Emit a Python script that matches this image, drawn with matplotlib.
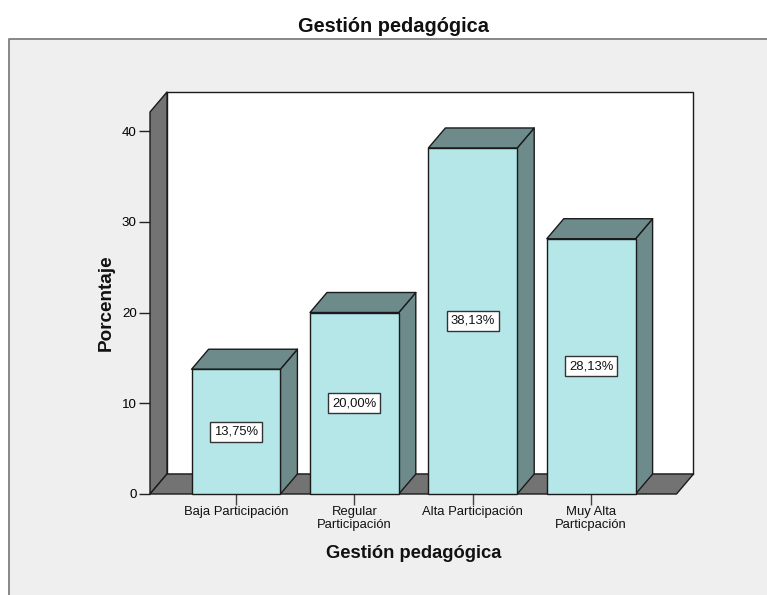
import matplotlib
matplotlib.use("Agg")
import matplotlib.pyplot as plt
from matplotlib.patches import Rectangle, Polygon
from matplotlib.lines import Line2D

categories = ["Baja Participación", "Regular\nParticipación", "Alta Participación", "Muy Alta\nParticpación"]
values = [13.75, 20.00, 38.13, 28.13]
labels = ["13,75%", "20,00%", "38,13%", "28,13%"]
yticks = [0, 10, 20, 30, 40]
title = "Gestión pedagógica"
xlabel = "Gestión pedagógica"
ylabel = "Porcentaje"

W, H = 767, 595
plt.rcParams["font.family"] = ["Liberation Sans", "DejaVu Sans"]
fig = plt.figure(figsize=(W / 100, H / 100), dpi=100, facecolor="white")

PANEL = "#EFEFEF"
WALL = "#737373"
BAR = "#B5E6E8"
SIDE = "#6E8B8B"
EDGE = "#1a1a1a"

def fx(p): return p / W
def fy(p): return 1 - p / H

fig.patches.append(Rectangle((fx(9), 0), 1 - fx(9), fy(39), transform=fig.transFigure,
                             facecolor=PANEL, edgecolor="none", zorder=-5))
fig.add_artist(Line2D([fx(9), fx(9), 1], [0, fy(39), fy(39)], color="#7f7f7f", lw=1.3))

L, R, B, T = 150.0, 676.5, 494.0, 112.0
ax = fig.add_axes([fx(L), fy(B), (R - L) / W, (B - T) / H])
ax.patch.set_visible(False)
step = 118.4
ax.set_xlim((L - 236) / step, (R - 236) / step)
unit = 9.075
ax.set_ylim(0, (B - T) / unit)
xmin, xmax = ax.get_xlim()
ymax = ax.get_ylim()[1]
dx, dy = 17 / step, 20 / unit
lw = 1.0

def poly(pts, fc, z):
    ax.add_patch(Polygon(pts, closed=True, facecolor=fc, edgecolor=EDGE, lw=lw, zorder=z,
                         clip_on=False, joinstyle="round"))

poly([(xmin + dx, dy), (xmax + dx, dy), (xmax + dx, ymax + dy), (xmin + dx, ymax + dy)], "white", 1)
poly([(xmin, 0), (xmin + dx, dy), (xmin + dx, ymax + dy), (xmin, ymax)], WALL, 2)
poly([(xmin, 0), (xmax, 0), (xmax + dx, dy), (xmin + dx, dy)], WALL, 2)

width = 0.75
for i, (v, lab) in enumerate(zip(values, labels)):
    l, r = i - width / 2, i + width / 2
    poly([(r, 0), (r + dx, dy), (r + dx, v + dy), (r, v)], SIDE, 3 + i)
    poly([(l, v), (r, v), (r + dx, v + dy), (l + dx, v + dy)], SIDE, 3 + i)
    ax.bar(i, v, width=width, color=BAR, edgecolor=EDGE, lw=lw, zorder=3.5 + i, clip_on=False)
    ax.text(i, v / 2, lab, ha="center", va="center", fontsize=9.4, color="#111111", zorder=20,
            bbox=dict(boxstyle="square,pad=0.3", facecolor="white", edgecolor="#333333", lw=1.0))

for s in ax.spines.values():
    s.set_visible(False)
ax.set_yticks(yticks)
ax.set_xticks(range(len(categories)))
ax.set_xticklabels(categories, fontsize=9.4, linespacing=1.12, color="#111111")
ax.tick_params(axis="y", length=8, width=1.0, labelsize=9.6, pad=1.5, color="#222222")
ax.tick_params(axis="x", length=8, width=1.0, pad=0.8, color="#444444")
ax.set_axisbelow(False)

fig.text(393 / W, fy(27), title, ha="center", va="center", fontsize=14.4, fontweight="bold", color="#111111")
fig.text(414 / W, fy(553), xlabel, ha="center", va="center", fontsize=13.2, fontweight="bold", color="#111111")
fig.text(106 / W, fy(302.5), ylabel, ha="center", va="center", rotation=90, fontsize=13.6, fontweight="bold", color="#111111")

fig.savefig("out.png", dpi=100, facecolor="white")
